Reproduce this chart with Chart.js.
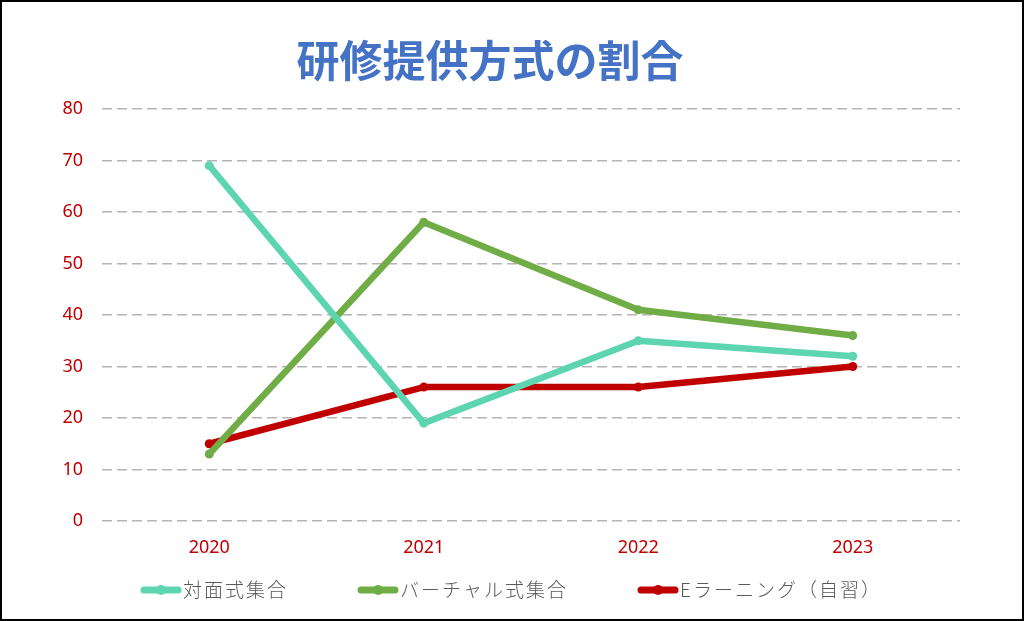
<!DOCTYPE html>
<html>
<head>
<meta charset="utf-8">
<script src="https://cdn.jsdelivr.net/npm/chart.js@4.4.1/dist/chart.umd.min.js"></script>
<style>
  html, body { margin: 0; padding: 0; background: #fff; }
  #wrap { width: 1024px; height: 621px; }
</style>
</head>
<body>
<div id="wrap"><canvas id="chart" width="1024" height="621"></canvas></div>
<script>
// chart data
const years = ["2020", "2021", "2022", "2023"];
const taimen = [69, 19, 35, 32];
const virtual = [13, 58, 41, 36];
const elearning = [15, 26, 26, 30];
const titleText = "研修提供方式の割合";

const cjk = '"Noto Sans CJK JP", "Noto Sans", sans-serif';
const num = '"Noto Sans", "DejaVu Sans", sans-serif';

// title, legend and outer frame drawn by hand
const framePlugin = {
  id: "frame",
  afterDraw(chart) {
    const ctx = chart.ctx;
    ctx.save();
    ctx.fillStyle = "#4472C4";
    ctx.font = "bold 43px " + cjk;
    ctx.textAlign = "center";
    ctx.textBaseline = "middle";
    ctx.fillText(titleText, 490, 61);

    // legend: line swatch with dot, then label
    const starts = [140, 357, 637];
    ctx.font = "300 19px " + cjk;
    ctx.letterSpacing = "2px";
    ctx.textAlign = "left";
    chart.data.datasets.forEach((d, i) => {
      const x = starts[i], y = 590;
      ctx.strokeStyle = d.borderColor;
      ctx.lineWidth = 7;
      ctx.lineCap = "round";
      ctx.beginPath(); ctx.moveTo(x + 4, y); ctx.lineTo(x + 38, y); ctx.stroke();
      ctx.fillStyle = d.borderColor;
      ctx.beginPath(); ctx.arc(x + 21, y, 5, 0, Math.PI * 2); ctx.fill();
      ctx.fillStyle = "#595959";
      ctx.fillText(d.label, x + 43, y);
    });
    ctx.letterSpacing = "0px";

    ctx.strokeStyle = "#000";
    ctx.lineWidth = 2;
    ctx.strokeRect(1, 1, 1022, 619);
    ctx.restore();
  }
};

const mk = (label, data, color) => ({
  label: label,
  data: data,
  borderColor: color,
  backgroundColor: color,
  borderWidth: 6.5,
  pointRadius: 4.5,
  pointBorderWidth: 0,
  pointHoverRadius: 4.5,
  borderCapStyle: "round",
  borderJoinStyle: "round",
  tension: 0
});

new Chart(document.getElementById("chart"), {
  type: "line",
  data: {
    labels: years,
    datasets: [
      mk("対面式集合", taimen, "#5DD5B0"),
      mk("バーチャル式集合", virtual, "#70AD47"),
      mk("Eラーニング（自習）", elearning, "#C00000")
    ]
  },
  options: {
    responsive: false,
    animation: false,
    layout: { padding: { left: 20, right: 64, top: 109, bottom: 62 } },
    scales: {
      x: {
        offset: true,
        grid: { display: false, drawTicks: false },
        border: { display: false },
        ticks: { color: "#C00000", font: { family: num, size: 18 }, padding: 16 },
        afterFit(s) { s.height = 38; }
      },
      y: {
        min: 0, max: 80,
        ticks: { stepSize: 10, color: "#C00000", font: { family: num, size: 18 }, padding: 19 },
        grid: { color: "#B4B4B4", lineWidth: 1.4, drawTicks: false },
        border: { display: false, dash: [10, 5] },
        afterFit(s) { s.width = 82; }
      }
    },
    plugins: {
      title: { display: false },
      tooltip: { enabled: false },
      legend: { display: false }
    }
  },
  plugins: [framePlugin]
});
</script>
</body>
</html>
